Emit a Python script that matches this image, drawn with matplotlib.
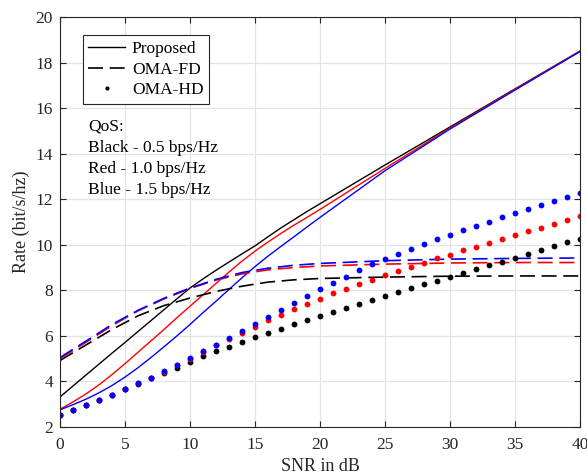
import matplotlib.pyplot as plt


# ----------------------------------------
# DATA
# ----------------------------------------

snr_prop = list(range(0, 21)) + [25, 30, 35, 40]

prop_black = [3.32, 3.80, 4.28, 4.76, 5.24, 5.71, 6.19, 6.67, 7.15, 7.63,
              8.10, 8.50, 8.88, 9.24, 9.60, 9.95, 10.35, 10.74, 11.10, 11.46,
              11.80, 13.50, 15.17, 16.84, 18.50]
prop_red = [2.78, 3.10, 3.45, 3.85, 4.30, 4.78, 5.28, 5.78, 6.28, 6.80,
            7.30, 7.80, 8.30, 8.80, 9.28, 9.72, 10.12, 10.50, 10.86, 11.20,
            11.55, 13.35, 15.12, 16.82, 18.50]
prop_blue = [2.75, 2.98, 3.22, 3.50, 3.82, 4.19, 4.60, 5.05, 5.52, 6.00,
             6.50, 7.02, 7.52, 8.04, 8.55, 9.04, 9.50, 9.93, 10.35, 10.78,
             11.20, 13.25, 15.08, 16.79, 18.48]

snr_fd = [0, 2, 4, 6, 8, 10, 12, 14, 16, 18, 20, 25, 30, 35, 40]

fd_black = [4.92, 5.60, 6.28, 6.88, 7.33, 7.66, 7.95, 8.18, 8.36, 8.46,
            8.52, 8.58, 8.62, 8.63, 8.63]
fd_red = [5.00, 5.72, 6.45, 7.10, 7.62, 8.08, 8.45, 8.72, 8.90, 9.00,
          9.07, 9.15, 9.20, 9.22, 9.22]
fd_blue = [5.05, 5.77, 6.50, 7.12, 7.65, 8.10, 8.48, 8.78, 8.97, 9.10,
           9.18, 9.30, 9.37, 9.40, 9.42]

snr_hd = list(range(0, 41))

hd_black = [2.54, 2.75, 2.95, 3.18, 3.42, 3.66, 3.90, 4.14, 4.38, 4.61,
            4.85, 5.10, 5.32, 5.52, 5.73, 5.93, 6.12, 6.32, 6.52, 6.69,
            6.88, 7.06, 7.23, 7.41, 7.58, 7.76, 7.93, 8.10, 8.27, 8.43,
            8.59, 8.78, 8.94, 9.10, 9.26, 9.44, 9.61, 9.78, 9.94, 10.11,
            10.27]
hd_red = [2.54, 2.75, 2.95, 3.18, 3.42, 3.66, 3.91, 4.16, 4.42, 4.70,
          5.00, 5.28, 5.58, 5.86, 6.12, 6.40, 6.68, 6.93, 7.18, 7.41,
          7.64, 7.86, 8.07, 8.27, 8.47, 8.67, 8.86, 9.03, 9.22, 9.40,
          9.57, 9.75, 9.92, 10.08, 10.26, 10.43, 10.60, 10.75, 10.93, 11.10,
          11.28]
hd_blue = [2.54, 2.75, 2.95, 3.18, 3.42, 3.67, 3.91, 4.17, 4.45, 4.73,
           5.03, 5.32, 5.60, 5.90, 6.21, 6.52, 6.84, 7.14, 7.45, 7.76,
           8.05, 8.34, 8.60, 8.88, 9.15, 9.38, 9.61, 9.83, 10.05, 10.25,
           10.45, 10.64, 10.84, 11.02, 11.21, 11.39, 11.56, 11.74, 11.90, 12.09,
           12.26]


# ----------------------------------------
# PLOT
# ----------------------------------------

plt.rcParams["font.family"] = ["Liberation Serif", "DejaVu Serif"]

fig = plt.figure(figsize=(5.87, 4.74), dpi=100)
ax = fig.add_axes([0.1022, 0.0992, 0.8858, 0.8650])

lw = 1.0
dash = (9, 4)
ms = 4.2

for y, c in [(prop_black, "k"), (prop_red, "#ff0000"), (prop_blue, "#0000ff")]:
    ax.plot(snr_prop, y, color=c, lw=lw)

for y, c in [(fd_black, "k"), (fd_red, "#ff0000"), (fd_blue, "#0000ff")]:
    ax.plot(snr_fd, y, color=c, lw=lw + 0.2, dashes=dash)

for y, c in [(hd_black, "k"), (hd_red, "#ff0000"), (hd_blue, "#0000ff")]:
    ax.plot(snr_hd, y, color=c, ls="none", marker="o", ms=ms, mew=0)

ax.set_xlim(0, 40)
ax.set_ylim(2, 20)
ax.set_xticks(range(0, 41, 5))
ax.set_yticks(range(2, 21, 2))

ax.grid(True, color="#e3e3e3", lw=0.9)
ax.set_axisbelow(True)

for s in ax.spines.values():
    s.set_color("#262626")
    s.set_linewidth(0.8)

ax.tick_params(direction="in", top=True, right=True, length=4,
               width=0.8, color="#262626", labelsize=12.5,
               labelcolor="#262626")
ax.tick_params(axis="x", pad=7)
ax.tick_params(axis="y", pad=5)

ax.set_xlabel("SNR in dB", fontsize=13, color="#262626", labelpad=3.5)
ax.set_ylabel("Rate (bit/s/hz)", fontsize=13, color="#262626", labelpad=4)

# legend with black proxies only
h1, = ax.plot([], [], color="k", lw=lw)
h2, = ax.plot([], [], color="k", lw=lw + 0.2, dashes=dash)
h3, = ax.plot([], [], color="k", ls="none", marker="o", ms=3, mew=0)
leg = ax.legend([h1, h2, h3], ["Proposed", "OMA-FD", "OMA-HD"],
                loc="upper left", bbox_to_anchor=(0.044, 0.955),
                fontsize=12.5, handlelength=2.1, handletextpad=0.4,
                labelspacing=0.25, borderpad=0.32, borderaxespad=0,
                fancybox=False, framealpha=1, edgecolor="#262626")
leg.get_frame().set_linewidth(0.8)

qos = ["QoS:", "Black - 0.5 bps/Hz", "Red - 1.0 bps/Hz", "Blue - 1.5 bps/Hz"]
for i, t in enumerate(qos):
    ax.text(0.054, 0.733 - i * 0.0515, t, transform=ax.transAxes,
            fontsize=12.5, color="k", va="center")

fig.savefig("out.png", dpi=100)
